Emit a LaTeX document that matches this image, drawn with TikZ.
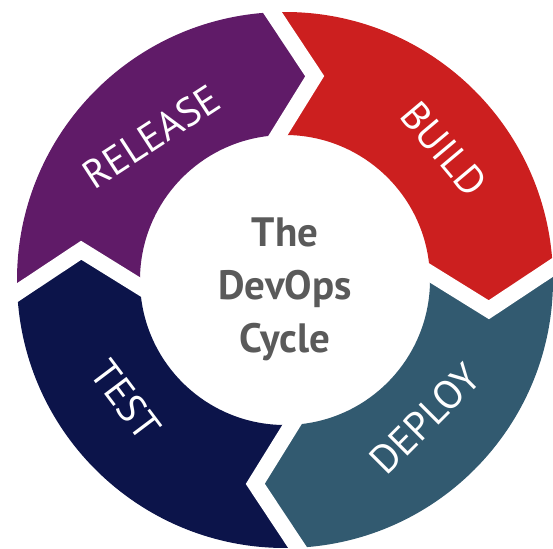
\documentclass[tikz,border=0pt]{standalone}
\usepackage{fontspec}
\setmainfont{PT Sans}
\usetikzlibrary{calc}
\definecolor{releasecol}{RGB}{96,27,104}
\definecolor{buildcol}{RGB}{204,31,31}
\definecolor{deploycol}{RGB}{50,90,112}
\definecolor{testcol}{RGB}{12,20,74}
\definecolor{titlegray}{RGB}{90,90,90}
\tikzstyle{gap} = [draw=white, line width=16pt, line join=miter]

\begin{document}
\begin{tikzpicture}[x=1pt, y=1pt,
    phase/.style={
      text=white,
      font=\fontsize{40}{44}\selectfont,
      inner sep=0pt
    },
    title/.style={
      text=titlegray,
      font=\bfseries\fontsize{41}{53}\selectfont,
      align=center
    }
  ]
  \useasboundingbox (-285,-268) rectangle (268,280);

  \foreach \s/\col in {182.7/releasecol, 92.7/buildcol, 2.7/deploycol, -87.3/testcol}
    \fill[\col] (\s:268) arc[start angle=\s, end angle=\s-90, radius=268]
      -- (\s-101:206) -- (\s-90:145) arc[start angle=\s-90, end angle=\s, radius=145]
      -- (\s-11:206) -- cycle;

  \foreach \a in {2.7, 92.7, 182.7, 272.7}
    \draw[gap] ($(\a-11:206)!1.2!(\a:268)$) -- (\a-11:206) -- ($(\a-11:206)!1.4!(\a:145)$);

  \node[title] (cycle) at (0,-9) {The\\DevOps\\Cycle};

  \node[phase, rotate=33] (release) at (133:196) {RELEASE};
  \node[phase, rotate=-50] (build) at (39.4:206) {BUILD};
  \node[phase, rotate=45] (deploy) at (-44.8:197) {DEPLOY};
  \node[phase, rotate=-53] (test) at (217:199) {TEST};

\end{tikzpicture}
\end{document}
